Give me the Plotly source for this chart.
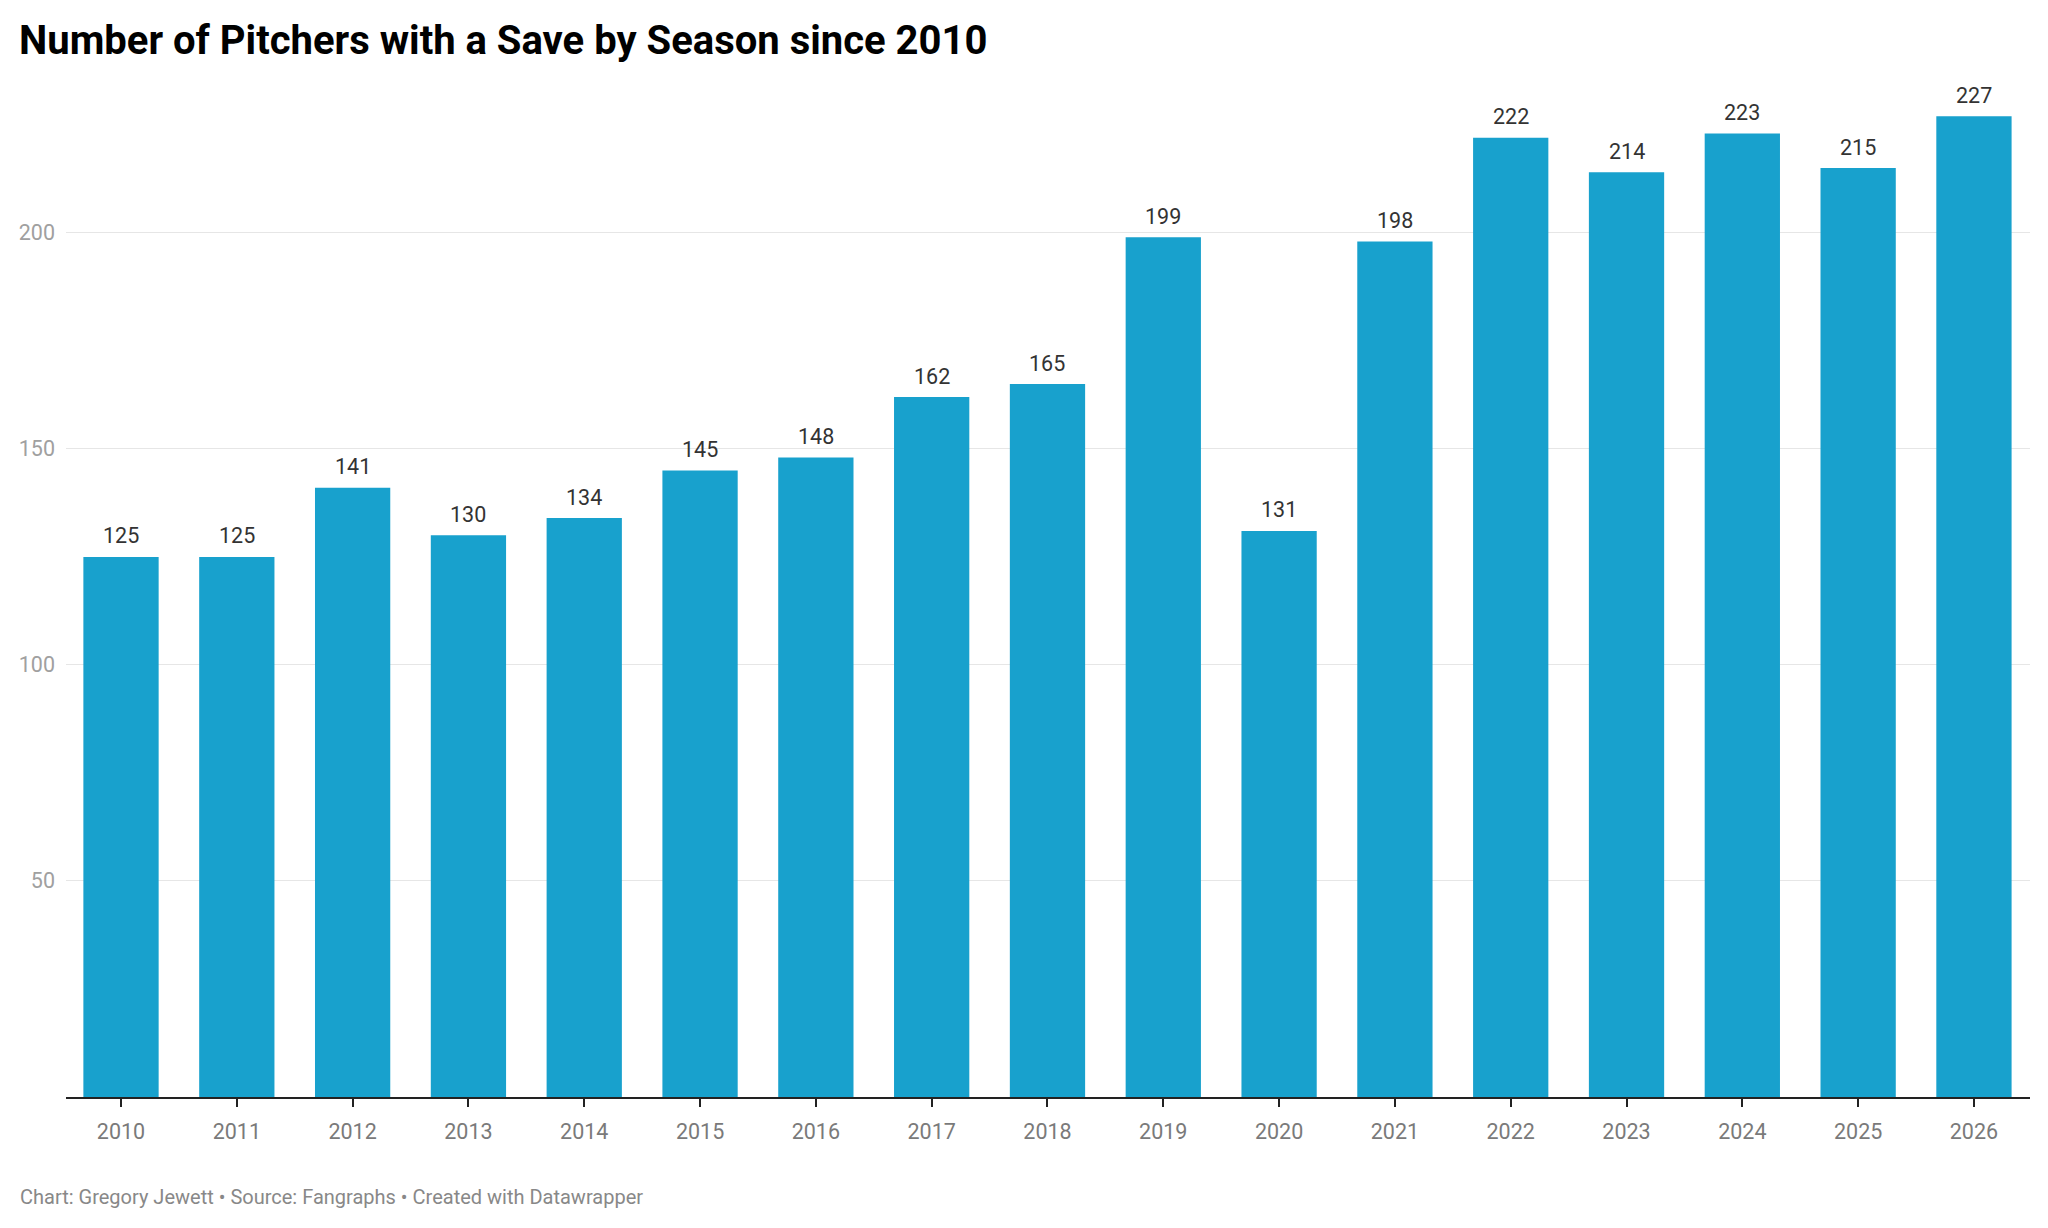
import plotly.graph_objects as go

seasons = ["2010", "2011", "2012", "2013", "2014", "2015", "2016", "2017", "2018",
           "2019", "2020", "2021", "2022", "2023", "2024", "2025", "2026"]
pitchers = [125, 125, 141, 130, 134, 145, 148, 162, 165, 199, 131, 198, 222, 214, 223, 215, 227]
y_ticks = [50, 100, 150, 200]

W, H = 2048, 1228
BAR_COLOR = "#18a1cd"
ml, mr, mt, mb = 66, 18, 60, 131
pw, ph = W - ml - mr, H - mt - mb

fig = go.Figure()
fig.add_trace(go.Bar(
    x=seasons, y=pitchers,
    marker=dict(color=BAR_COLOR, line=dict(width=0)),
    hoverinfo="x+y",
    showlegend=False,
))

annotations = []
for i, v in enumerate(pitchers):
    annotations.append(dict(
        x=i, y=v, xref="x", yref="y", text=str(v), showarrow=False,
        yanchor="middle", xanchor="center", yshift=21,
        font=dict(family="Roboto", size=21.5, color="#333333"),
    ))


def paper_pos(px, py):
    return (px - ml) / pw, 1 - (py - mt) / ph


tx, ty = paper_pos(17, 41)
annotations.append(dict(
    x=tx, y=ty, xref="paper", yref="paper",
    text="<b>Number of Pitchers with a Save by Season since 2010</b>",
    showarrow=False, xanchor="left", yanchor="middle",
    font=dict(family="Roboto", size=40, color="#000000"),
))
fx, fy = paper_pos(18, 1197)
annotations.append(dict(
    x=fx, y=fy, xref="paper", yref="paper",
    text="Chart: Gregory Jewett • Source: Fangraphs • Created with Datawrapper",
    showarrow=False, xanchor="left", yanchor="middle",
    font=dict(family="Roboto", size=20, color="#888888"),
))

fig.update_layout(
    width=W, height=H,
    margin=dict(l=ml, r=mr, t=mt, b=mb, pad=0),
    paper_bgcolor="white", plot_bgcolor="white",
    bargap=0.35,
    font=dict(family="Roboto", size=21.5, color="#333333"),
    annotations=annotations,
    xaxis=dict(
        type="category",
        range=[-0.475, 16.484],
        showgrid=False,
        showline=True, linecolor="#222222", linewidth=2,
        ticks="outside", ticklen=8, tickwidth=2, tickcolor="#222222",
        tickfont=dict(family="Roboto", size=21.5, color="#7a7a7a"),
        ticklabelstandoff=6,
        zeroline=False, fixedrange=True,
    ),
    yaxis=dict(
        range=[0, 240],
        tickvals=y_ticks,
        ticktext=[str(t) for t in y_ticks],
        showgrid=True, gridcolor="#e6e6e6", gridwidth=1,
        showline=False, zeroline=False, ticks="",
        tickfont=dict(family="Roboto", size=21.5, color="#a0a0a0"),
        ticklabelstandoff=10,
        fixedrange=True,
    ),
)

fig.write_html(
    "out.html",
    config={"displayModeBar": False},
    post_script="document.body.style.margin='0';document.body.style.overflow='hidden';",
)
